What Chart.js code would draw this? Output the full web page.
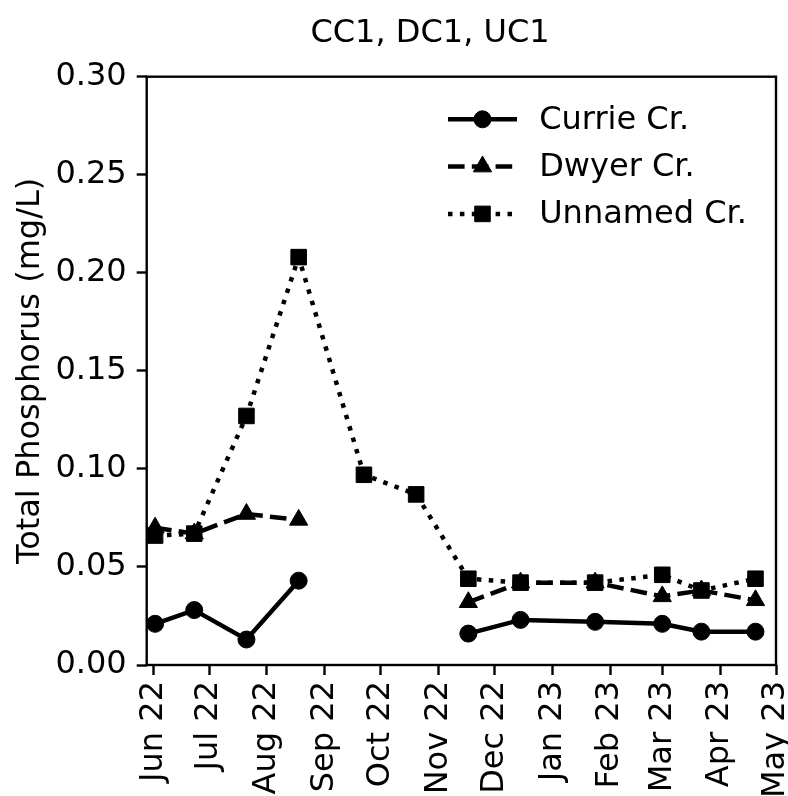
<!DOCTYPE html>
<html><head><meta charset="utf-8">
<script src="https://cdn.jsdelivr.net/npm/chart.js@4.4.0/dist/chart.umd.min.js"></script>
<style>html,body{margin:0;padding:0;background:#fff;}#wrap{width:788px;height:796px;}</style>
</head><body><div id="wrap"><canvas id="c" width="788" height="796"></canvas></div>
<script>
const chartTitle = 'CC1, DC1, UC1';
const yAxisTitle = 'Total Phosphorus (mg/L)';
const sampleDates = ['2022-06-02','2022-06-23','2022-07-21','2022-08-18','2022-09-22','2022-10-20','2022-11-17','2022-12-15','2023-01-24','2023-03-01','2023-03-22','2023-04-20'];
const seriesNames = ['Currie Cr.','Dwyer Cr.','Unnamed Cr.'];
const currieValues  = [0.021,0.028,0.013,0.043,null,null,0.016,0.023,0.022,0.021,0.017,0.017];
const dwyerValues   = [0.070,0.067,0.077,0.074,null,null,0.032,0.042,0.042,0.035,0.038,0.033];
const unnamedValues = [0.066,0.067,0.127,0.208,0.097,0.087,0.044,0.042,0.042,0.046,0.038,0.044];
const xTickDates  = ['2022-06-01','2022-07-01','2022-08-01','2022-09-01','2022-10-01','2022-11-01','2022-12-01','2023-01-01','2023-02-01','2023-03-01','2023-04-01','2023-05-01'];
const xTickLabels = ['Jun 22','Jul 22','Aug 22','Sep 22','Oct 22','Nov 22','Dec 22','Jan 23','Feb 23','Mar 23','Apr 23','May 23'];
const yTickValues = [0,0.05,0.10,0.15,0.20,0.25,0.30];

const FONT = 'DejaVu Sans';
const FS = 32;
function toDay(s){const [y,m,d]=s.split('-').map(Number);return Date.UTC(y,m-1,d)/86400000;}
function pts(vals){return sampleDates.map((d,i)=>({x:toDay(d),y:vals[i]}));}

const frameAndText = {
  id:'frameAndText',
  afterDraw(chart){
    const ctx=chart.ctx, ca=chart.chartArea;
    ctx.save();
    ctx.strokeStyle='#000'; ctx.lineWidth=2.4; ctx.setLineDash([]);
    ctx.strokeRect(ca.left, ca.top, ca.right-ca.left, ca.bottom-ca.top);
    ctx.fillStyle='#000';
    ctx.font = FS+'px "'+FONT+'"';
    ctx.textAlign='center'; ctx.textBaseline='alphabetic';
    ctx.fillText(chartTitle, 430, 42);
    ctx.textAlign='left'; ctx.textBaseline='middle';
    chart.data.datasets.forEach((ds,i)=>{
      const y = ca.top + 42.6 + i*47.3;
      const x0 = ca.left + 301.3, x1 = x0 + 69;
      ctx.strokeStyle='#000'; ctx.lineWidth=ds.borderWidth; ctx.lineCap='butt';
      ctx.setLineDash(ds.borderDash||[]);
      ctx.beginPath(); ctx.moveTo(x0,y); ctx.lineTo(x1,y); ctx.stroke();
      ctx.setLineDash([]);
      drawMarker(ctx, ds.pointStyle, ds.pointRadius, (x0+x1)/2, y);
      ctx.fillStyle='#000';
      ctx.fillText(ds.label, ca.left + 392.5, y+1);
    });
    ctx.restore();
  }
};
function drawMarker(ctx, style, r, x, y){
  ctx.fillStyle='#000'; ctx.strokeStyle='#000'; ctx.lineWidth=1;
  ctx.beginPath();
  if(style==='circle'){ctx.arc(x,y,r,0,Math.PI*2);}
  else if(style==='rect'){const s=r*Math.SQRT1_2;ctx.rect(x-s,y-s,2*s,2*s);}
  else if(style==='triangle'){
    let rad=0;
    ctx.moveTo(x+Math.sin(rad)*r, y-Math.cos(rad)*r);
    rad+=2*Math.PI/3; ctx.lineTo(x+Math.sin(rad)*r, y-Math.cos(rad)*r);
    rad+=2*Math.PI/3; ctx.lineTo(x+Math.sin(rad)*r, y-Math.cos(rad)*r);
    ctx.closePath();
  }
  ctx.fill(); ctx.stroke();
}

const common = {borderColor:'#000', backgroundColor:'#000', pointBackgroundColor:'#000', pointBorderColor:'#000', pointBorderWidth:1, borderWidth:4.5, spanGaps:false, tension:0, fill:false, borderCapStyle:'butt'};

new Chart(document.getElementById('c'), {
  type:'line',
  data:{datasets:[
    Object.assign({label:seriesNames[0], data:pts(currieValues), pointStyle:'circle', pointRadius:8.5, order:2}, common),
    Object.assign({label:seriesNames[1], data:pts(dwyerValues), pointStyle:'triangle', pointRadius:10.5, borderDash:[16.6,7.2], order:1}, common),
    Object.assign({label:seriesNames[2], data:pts(unnamedValues), pointStyle:'rect', pointRadius:11, borderDash:[4.5,7.4], order:0}, common)
  ]},
  options:{
    responsive:false, animation:false, devicePixelRatio:1,
    layout:{padding:{top:76.7,right:11.3,left:0,bottom:0}},
    plugins:{legend:{display:false}, tooltip:{enabled:false}, title:{display:false}},
    scales:{
      x:{type:'linear', min:toDay('2022-05-28')+0.5, max:toDay('2023-05-01'),
        afterBuildTicks(s){s.ticks=xTickDates.map(d=>({value:toDay(d)}));},
        afterFit(s){s.height=131; s.paddingLeft=0; s.paddingRight=0;},
        grid:{display:true, drawOnChartArea:false, drawTicks:true, tickLength:10, tickWidth:2.4, tickColor:'#000'},
        border:{display:false},
        ticks:{autoSkip:false, minRotation:90, maxRotation:90, padding:6, color:'#000', font:{family:FONT,size:FS},
          callback:(v,i)=>xTickLabels[i]}
      },
      y:{type:'linear', min:0, max:0.30,
        afterBuildTicks(s){s.ticks=yTickValues.map(v=>({value:v}));},
        afterFit(s){s.width=146.7; s.paddingTop=0; s.paddingBottom=0;},
        grid:{display:true, drawOnChartArea:false, drawTicks:true, tickLength:10, tickWidth:2.4, tickColor:'#000'},
        border:{display:false},
        title:{display:true, text:yAxisTitle, color:'#000', font:{family:FONT,size:FS}, padding:{top:11,bottom:0}},
        ticks:{padding:10, color:'#000', font:{family:FONT,size:FS}, callback:(v)=>Number(v).toFixed(2)}
      }
    }
  },
  plugins:[frameAndText]
});
</script></body></html>
